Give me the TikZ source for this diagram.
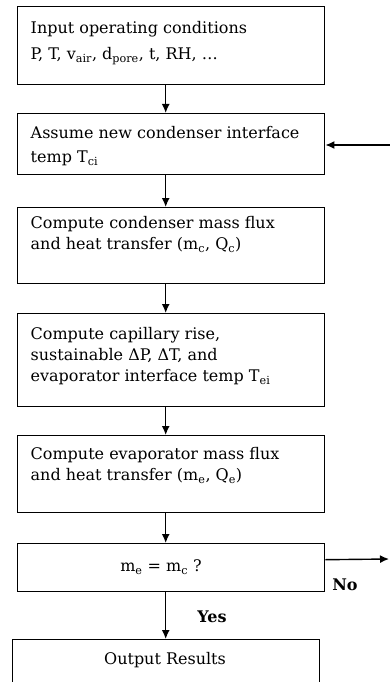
\documentclass[tikz,border=0pt]{standalone}
\usepackage{fontspec}
\setmainfont{DejaVu Serif}
\usetikzlibrary{positioning,arrows.meta}

\begin{document}
\begin{tikzpicture}[>={Latex[length=9pt,width=8pt]}, x=1pt, y=-1pt, line width=1.4pt,
    every node/.style={font=\fontsize{16}{21}\selectfont},
    box/.style={draw, rectangle, anchor=north west, minimum width=307pt, inner sep=0pt},
    txt/.style={align=left, inner sep=0pt, anchor=north west},
    flow/.style={->}]
    \useasboundingbox (0,0) rectangle (390,682);
    % boxes
    \node[box, minimum height=78pt] (input) at (17,6) {};
    \node[box, minimum height=61pt] (assume) at (17,113) {};
    \node[box, minimum height=76pt] (cond) at (17,207) {};
    \node[box, minimum height=93pt] (capil) at (17,313) {};
    \node[box, minimum height=77pt] (evap) at (17,435) {};
    \node[box, minimum height=48pt] (check) at (17,543) {};
    \node[box, minimum height=60pt] (output) at (12,639) {};
    % texts
    \node[txt] (inputtxt) at (30,21) {Input operating conditions\\[5pt]
      P, T, v\textsubscript{air}, d\textsubscript{pore}, t, RH, …};
    \node[txt] (assumetxt) at (30,126) {Assume new condenser interface\\[3pt]
      temp T\textsubscript{ci}};
    \node[txt] (condtxt) at (30,216) {Compute condenser mass flux\\
      and heat transfer (m\textsubscript{c}, Q\textsubscript{c})};
    \node[txt] (capiltxt) at (30,327) {Compute capillary rise,\\
      sustainable ΔP, ΔT, and\\
      evaporator interface temp T\textsubscript{ei}};
    \node[txt] (evaptxt) at (30,447) {Compute evaporator mass flux\\
      and heat transfer (m\textsubscript{e}, Q\textsubscript{e})};
    \node (checktxt) at (161,567) {m\textsubscript{e} = m\textsubscript{c} ?};
    \node (outputtxt) at (165,660) {Output Results};
    \node[font=\fontsize{16}{21}\selectfont\bfseries] (yes) at (212,617) {Yes};
    \node[font=\fontsize{16}{21}\selectfont\bfseries] (no) at (345,585) {No};
    % connectors
    \draw[flow] ([xshift=-5.5pt]input.south) -- ([xshift=-5.5pt]assume.north);
    \draw[flow] ([xshift=-5.5pt]assume.south) -- ([xshift=-5.5pt]cond.north);
    \draw[flow] ([xshift=-5.5pt]cond.south) -- ([xshift=-5.5pt]capil.north);
    \draw[flow] ([xshift=-5.5pt]capil.south) -- ([xshift=-5.5pt]evap.north);
    \draw[flow] ([xshift=-5.5pt]evap.south) -- ([xshift=-5.5pt]check.north);
    \draw[flow] ([xshift=-5.5pt]check.south) -- ([xshift=-0.5pt]output.north);
    \coordinate (back) at (390,145);
    \draw[flow] (back) -- (back -| assume.east);
    \coordinate (noend) at (389,559);
    \draw[flow] ([yshift=8pt]check.east) -- (noend);
\end{tikzpicture}
\end{document}
